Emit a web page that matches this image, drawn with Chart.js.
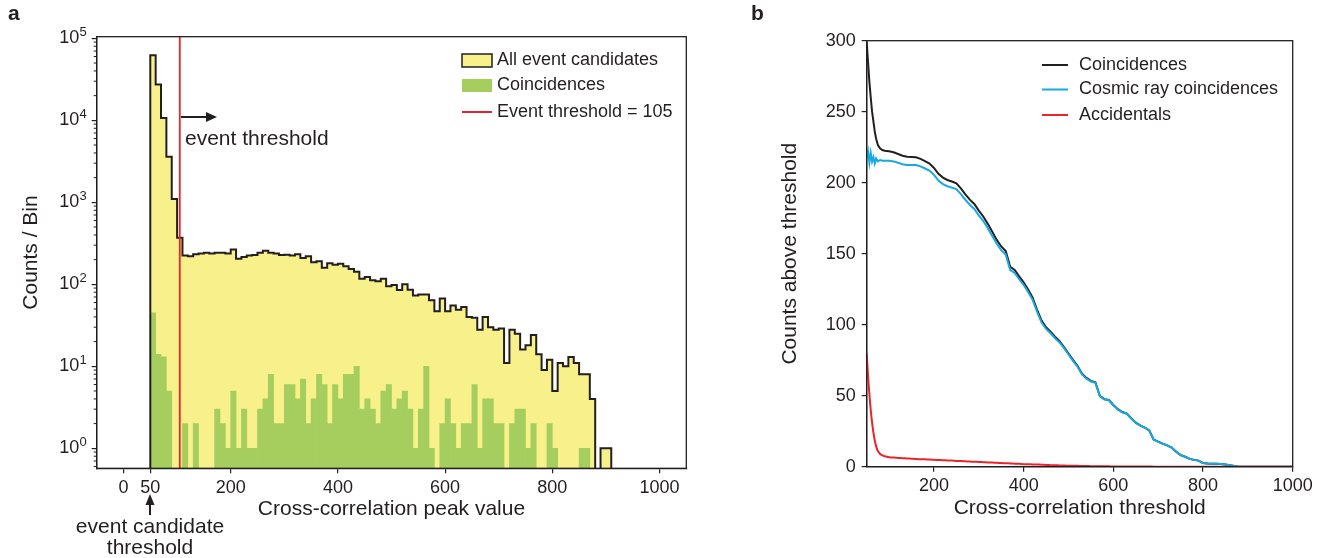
<!DOCTYPE html>
<html>
<head>
<meta charset="utf-8">
<script src="https://cdn.jsdelivr.net/npm/chart.js@4.4.1/dist/chart.umd.min.js"></script>
<style>
  html, body { margin: 0; padding: 0; background: #fff; }
  #wrap { position: relative; width: 1344px; height: 558px; overflow: hidden; }
  #histo { position: absolute; left: 0; top: 0; }
  #thresh { position: absolute; left: 744px; top: 0; }
</style>
</head>
<body>
<div id="wrap">
  <canvas id="histo" width="700" height="558"></canvas>
  <canvas id="thresh" width="600" height="558"></canvas>
</div>
<script>
const FONT = "'Liberation Sans', Arial, Helvetica, sans-serif";
const INK = '#231F20';

// ---- panel a: histogram of cross-correlation peak values (bins 10 wide, lower edge) ----
const BIN = 10;
const binStarts = [
  50, 60, 70, 80, 90, 100, 110, 120, 130, 140,
  150, 160, 170, 180, 190, 200, 210, 220, 230, 240,
  250, 260, 270, 280, 290, 300, 310, 320, 330, 340,
  350, 360, 370, 380, 390, 400, 410, 420, 430, 440,
  450, 460, 470, 480, 490, 500, 510, 520, 530, 540,
  550, 560, 570, 580, 590, 600, 610, 620, 630, 640,
  650, 660, 670, 680, 690, 700, 710, 720, 730, 740,
  750, 760, 770, 780, 790, 800, 810, 820, 830, 840,
  850, 860, 870, 880, 890, 900
];
const allCandidates = [
  62000, 27300, 10700, 3600, 1100, 370, 225, 220, 233, 238,
  242, 238, 242, 242, 238, 266, 205, 216, 225, 228,
  242, 256, 242, 238, 228, 230, 225, 233, 209, 220,
  186, 191, 159, 180, 173, 178, 166, 154, 142, 117,
  123, 112, 109, 117, 95, 98, 85, 100, 86, 73,
  75, 75, 64, 47, 67, 47, 55, 49, 53, 40,
  39, 28, 40, 30, 28, 29, 11, 28, 25, 16,
  18, 24, 14, 9, 12, 5, 11, 10, 13, 11,
  8, 8, 4, 0, 1, 1
];
const coincidenceCounts = [
  45, 14, 13, 5, 0, 0, 2, 0, 2, 0,
  0, 0, 3, 2, 1, 5, 1, 3, 1, 1,
  3, 4, 8, 2, 2, 6, 6, 4, 7, 2,
  4, 8, 6, 2, 6, 4, 8, 8, 10, 3,
  4, 3, 2, 5, 6, 3, 4, 5, 3, 1,
  3, 10, 1, 0, 2, 4, 2, 1, 2, 2,
  6, 1, 4, 4, 2, 2, 0, 2, 3, 3,
  1, 2, 0, 0, 2, 1, 0, 0, 0, 0,
  1, 1, 0, 0, 0, 0
];
const eventThreshold = 105;
const histXTicks = [0, 50, 200, 400, 600, 800, 1000];
const histYTicks = [1, 10, 100, 1000, 10000, 100000];

// ---- panel b: counts above threshold ----
const thresholds = [
  50, 53, 56, 59, 62, 65, 68, 71, 75, 80, 85, 90,
  100, 110, 120, 130, 140, 150, 160, 170, 180, 190,
  200, 210, 220, 230, 240, 250, 260, 270, 280, 290,
  300, 310, 320, 330, 340, 350, 360, 370, 380, 390,
  400, 410, 420, 430, 440, 450, 460, 470, 480, 490,
  500, 510, 520, 530, 540, 550, 560, 570, 580, 590,
  600, 610, 620, 630, 640, 650, 660, 670, 680, 690,
  700, 710, 720, 730, 740, 750, 760, 770, 780, 790,
  800, 810, 820, 830, 840, 850, 860, 870, 880, 890,
  900, 910, 920, 930, 940, 950, 960, 970, 980, 990, 1000
];
const coincidences = [
  299, 285, 271, 260, 250, 243, 236, 231, 226.5, 224, 223, 222.5,
  222.2, 221.4, 220.2, 219, 218.3, 218.1, 217.9, 216.8, 215.2, 213.5,
  210.4, 206.2, 203.6, 201.9, 200.8, 199.6, 196, 191.8, 188.1, 185,
  180.3, 176.2, 171, 165.4, 159.7, 155.1, 151.9, 140.8, 138.6, 134,
  129.8, 124.7, 119.1, 110.5, 102.9, 98.2, 95.1, 91.5, 88.4, 84.3,
  79.7, 75.2, 71.1, 65.5, 62.5, 60.4, 59.4, 49.8, 47.6, 47,
  43.5, 40.5, 38.5, 37.4, 34, 31, 29.1, 27.6, 25.6, 19.1,
  17.6, 16.2, 15, 13.5, 10.5, 8.2, 7, 5.5, 4.8, 4.3,
  2.6, 2.2, 2, 2, 1.9, 1.5, 1, 0.5, 0, 0,
  0, 0, 0, 0, 0, 0, 0, 0, 0, 0, 0
];
const cosmicRay = [
  217, 222, 214, 221, 215, 218, 213.5, 217, 215, 216, 215.5, 215.5,
  215.5, 215, 214, 213, 212.5, 212.5, 212.5, 211.5, 210, 208.5,
  205.5, 201.5, 199, 197.5, 196.5, 195.5, 192, 188, 184.5, 181.5,
  177, 173, 168, 162.5, 157, 152.5, 149.5, 138.5, 136.5, 132,
  128, 123, 117.5, 109, 101.5, 97, 94, 90.5, 87.5, 83.5,
  79, 74.5, 70.5, 65, 62, 60, 59, 49.5, 47.3, 46.8,
  43.3, 40.3, 38.3, 37.3, 33.9, 30.9, 29, 27.5, 25.5, 19,
  17.5, 16.2, 15, 13.5, 10.5, 8.2, 7, 5.5, 4.8, 4.3,
  2.6, 2.2, 2, 2, 1.9, 1.5, 1, 0.5, 0, 0,
  0, 0, 0, 0, 0, 0, 0, 0, 0, 0, 0
];
const accidentals = [
  80, 64, 51, 40, 31, 24, 18.5, 14.5, 11, 9, 8, 7.4,
  6.7, 6.4, 6.2, 6, 5.8, 5.6, 5.4, 5.3, 5.2, 5,
  4.9, 4.7, 4.6, 4.4, 4.3, 4.1, 4, 3.8, 3.6, 3.5,
  3.3, 3.2, 3, 2.9, 2.7, 2.6, 2.4, 2.3, 2.1, 2,
  1.8, 1.7, 1.6, 1.5, 1.4, 1.2, 1.1, 1, 0.9, 0.8,
  0.7, 0.65, 0.6, 0.5, 0.45, 0.4, 0.35, 0.3, 0.27, 0.24,
  0.2, 0.18, 0.15, 0.13, 0.11, 0.1, 0.08, 0.07, 0.06, 0.05,
  0.04, 0.03, 0.03, 0.02, 0.02, 0.01, 0.01, 0.01, 0.01, 0.01,
  0, 0, 0, 0, 0, 0, 0, 0, 0, 0,
  0, 0, 0, 0, 0, 0, 0, 0, 0, 0, 0
];
const threshXTicks = [200, 400, 600, 800, 1000];
const threshYTicks = [0, 50, 100, 150, 200, 250, 300];

const YELLOW = '#F8F18B';
const GREEN = '#A6CE5F';
const RED = '#E9252B';
const BLUE = '#17A9E1';

const tickFont = { family: FONT, size: 18 };
const titleFont = { family: FONT, size: 21 };
const tickGrid = { display: true, drawOnChartArea: false, drawTicks: true, tickLength: 5, color: INK, lineWidth: 1.2 };
const axisBorder = { display: true, color: INK, width: 1.3 };

// step outline of the histogram (built from the bins)
const FLOOR = 0.3;
const outline = [{ x: binStarts[0], y: FLOOR }];
binStarts.forEach((lo, i) => {
  const v = allCandidates[i] > 0 ? allCandidates[i] : FLOOR;
  outline.push({ x: lo, y: v }, { x: lo + BIN, y: v });
});
outline.push({ x: binStarts[binStarts.length - 1] + BIN, y: FLOOR });

const frame = {
  id: 'frame',
  afterDraw(chart) {
    const { ctx, chartArea: a } = chart;
    ctx.save();
    ctx.strokeStyle = INK;
    ctx.lineWidth = 1.3;
    ctx.strokeRect(a.left, a.top, a.right - a.left, a.bottom - a.top);
    ctx.restore();
  }
};

function arrowHead(ctx, pts) {
  ctx.beginPath();
  ctx.moveTo(pts[0][0], pts[0][1]);
  ctx.lineTo(pts[1][0], pts[1][1]);
  ctx.lineTo(pts[2][0], pts[2][1]);
  ctx.closePath();
  ctx.fill();
}

const histExtras = {
  id: 'histExtras',
  afterDraw(chart) {
    const { ctx, chartArea: a } = chart;
    const y = chart.scales.y;
    ctx.save();
    // minor log ticks
    ctx.strokeStyle = INK;
    ctx.lineWidth = 1;
    for (let k = -1; k <= 5; k++) {
      for (let m = 2; m <= 9; m++) {
        const v = m * Math.pow(10, k);
        if (v < y.min || v > y.max) continue;
        const py = y.getPixelForValue(v);
        ctx.beginPath();
        ctx.moveTo(a.left - 3, py);
        ctx.lineTo(a.left, py);
        ctx.stroke();
      }
    }
    // exponents of the decade labels
    ctx.fillStyle = INK;
    ctx.font = `13px ${FONT}`;
    ctx.textBaseline = 'middle';
    histYTicks.forEach(v => {
      ctx.fillText(String(Math.round(Math.log10(v))), 79.5, y.getPixelForValue(v) - 6);
    });
    // legend
    ctx.font = `18px ${FONT}`;
    ctx.fillStyle = YELLOW;
    ctx.fillRect(462, 54, 30, 13);
    ctx.lineWidth = 1.5;
    ctx.strokeStyle = INK;
    ctx.strokeRect(462, 54, 30, 13);
    ctx.fillStyle = GREEN;
    ctx.fillRect(462, 79, 30, 13);
    ctx.strokeStyle = RED;
    ctx.lineWidth = 2;
    ctx.beginPath();
    ctx.moveTo(462, 112);
    ctx.lineTo(492, 112);
    ctx.stroke();
    ctx.fillStyle = INK;
    ctx.fillText('All event candidates', 497, 60.5);
    ctx.fillText('Coincidences', 497, 85.5);
    ctx.fillText('Event threshold = 105', 497, 112);
    // event threshold arrow
    ctx.strokeStyle = INK;
    ctx.lineWidth = 2;
    ctx.beginPath();
    ctx.moveTo(181, 117);
    ctx.lineTo(207, 117);
    ctx.stroke();
    arrowHead(ctx, [[206, 112], [217, 117], [206, 122]]);
    ctx.font = `21px ${FONT}`;
    ctx.textBaseline = 'alphabetic';
    ctx.fillText('event threshold', 185, 145);
    // event candidate threshold arrow
    ctx.beginPath();
    ctx.moveTo(150, 504);
    ctx.lineTo(150, 515);
    ctx.stroke();
    arrowHead(ctx, [[150, 494], [154.5, 505], [145.5, 505]]);
    ctx.textAlign = 'center';
    ctx.fillText('event candidate', 150, 533);
    ctx.fillText('threshold', 150, 554);
    // panel letter
    ctx.textAlign = 'left';
    ctx.font = `bold 21px ${FONT}`;
    ctx.fillText('a', 8, 20);
    ctx.restore();
  }
};

new Chart(document.getElementById('histo'), {
  type: 'bar',
  data: {
    datasets: [
      {
        label: 'All event candidates',
        data: binStarts.map((lo, i) => ({ x: lo + BIN / 2, y: allCandidates[i] > 0 ? allCandidates[i] : null })),
        backgroundColor: YELLOW,
        borderWidth: 0,
        barPercentage: 1,
        categoryPercentage: 1,
        grouped: false,
        order: 4
      },
      {
        label: 'Coincidences',
        data: binStarts.map((lo, i) => ({ x: lo + BIN / 2, y: coincidenceCounts[i] > 0 ? coincidenceCounts[i] : null })),
        backgroundColor: GREEN,
        borderWidth: 0,
        barPercentage: 1,
        categoryPercentage: 1,
        grouped: false,
        order: 3
      },
      {
        type: 'line',
        label: 'outline',
        data: outline,
        borderColor: INK,
        borderWidth: 2,
        pointRadius: 0,
        tension: 0,
        fill: false,
        order: 2
      },
      {
        type: 'line',
        label: 'Event threshold = 105',
        data: [{ x: eventThreshold, y: 0.01 }, { x: eventThreshold, y: 1e7 }],
        borderColor: RED,
        borderWidth: 1.8,
        pointRadius: 0,
        fill: false,
        order: 1
      }
    ]
  },
  options: {
    responsive: false,
    devicePixelRatio: 1,
    animation: false,
    layout: { padding: { top: 36.7, right: 13.7, left: 0, bottom: 0 } },
    plugins: { legend: { display: false }, tooltip: { enabled: false } },
    scales: {
      x: {
        type: 'linear',
        min: -50,
        max: 1050,
        offset: false,
        grid: Object.assign({}, tickGrid, { offset: false }),
        border: axisBorder,
        afterBuildTicks: s => { s.ticks = histXTicks.map(v => ({ value: v })); },
        afterFit: s => { s.height = 89.7; },
        ticks: { font: tickFont, color: INK, padding: 4, autoSkip: false, maxRotation: 0, callback: v => String(v) },
        title: { display: true, text: 'Cross-correlation peak value', font: titleFont, color: INK, padding: { top: 0, bottom: 36.4 } }
      },
      y: {
        type: 'logarithmic',
        min: 0.57,
        max: 104700,
        grid: tickGrid,
        border: axisBorder,
        afterBuildTicks: s => { s.ticks = histYTicks.map(v => ({ value: v })); },
        afterFit: s => { s.width = 96.7; },
        ticks: {
          font: tickFont, color: INK, padding: 12.5, autoSkip: false,
          callback: () => '10'
        },
        title: { display: true, text: 'Counts / Bin', font: titleFont, color: INK, padding: { top: 18.4, bottom: 0 } }
      }
    }
  },
  plugins: [frame, histExtras]
});

const threshExtras = {
  id: 'threshExtras',
  afterDraw(chart) {
    const { ctx } = chart;
    ctx.save();
    const rows = [[INK, 'Coincidences', 65], [BLUE, 'Cosmic ray coincidences', 89.5], [RED, 'Accidentals', 115]];
    ctx.font = `18px ${FONT}`;
    ctx.textBaseline = 'middle';
    ctx.lineWidth = 2;
    rows.forEach(([c, t, yy]) => {
      ctx.strokeStyle = c;
      ctx.beginPath();
      ctx.moveTo(298, yy);
      ctx.lineTo(324, yy);
      ctx.stroke();
      ctx.fillStyle = INK;
      ctx.fillText(t, 335, yy);
    });
    ctx.textBaseline = 'alphabetic';
    ctx.font = `bold 21px ${FONT}`;
    ctx.fillText('b', 7, 20);
    ctx.restore();
  }
};

const pts = arr => thresholds.map((t, i) => ({ x: t, y: arr[i] }));

new Chart(document.getElementById('thresh'), {
  type: 'line',
  data: {
    datasets: [
      { label: 'Coincidences', data: pts(coincidences), borderColor: INK, borderWidth: 2, pointRadius: 0, tension: 0, order: 3 },
      { label: 'Cosmic ray coincidences', data: pts(cosmicRay), borderColor: BLUE, borderWidth: 2, pointRadius: 0, tension: 0, order: 2 },
      { label: 'Accidentals', data: pts(accidentals), borderColor: RED, borderWidth: 2, pointRadius: 0, tension: 0.3, order: 1 }
    ]
  },
  options: {
    responsive: false,
    devicePixelRatio: 1,
    animation: false,
    layout: { padding: { top: 40.7, right: 51.3, left: 0, bottom: 0 } },
    plugins: { legend: { display: false }, tooltip: { enabled: false } },
    scales: {
      x: {
        type: 'linear',
        min: 50,
        max: 1000,
        grid: tickGrid,
        border: axisBorder,
        afterBuildTicks: s => { s.ticks = threshXTicks.map(v => ({ value: v })); },
        afterFit: s => { s.height = 91.3; },
        ticks: { font: tickFont, color: INK, padding: 4, autoSkip: false, maxRotation: 0, callback: v => String(v) },
        title: { display: true, text: 'Cross-correlation threshold', font: titleFont, color: INK, padding: { top: 0, bottom: 37.4 } }
      },
      y: {
        type: 'linear',
        min: 0,
        max: 300,
        grid: tickGrid,
        border: axisBorder,
        afterBuildTicks: s => { s.ticks = threshYTicks.map(v => ({ value: v })); },
        afterFit: s => { s.width = 122.7; },
        ticks: { font: tickFont, color: INK, padding: 6, autoSkip: false, callback: v => String(v) },
        title: { display: true, text: 'Counts above threshold', font: titleFont, color: INK, padding: { top: 33.4, bottom: 0 } }
      }
    }
  },
  plugins: [frame, threshExtras]
});
</script>
</body>
</html>
